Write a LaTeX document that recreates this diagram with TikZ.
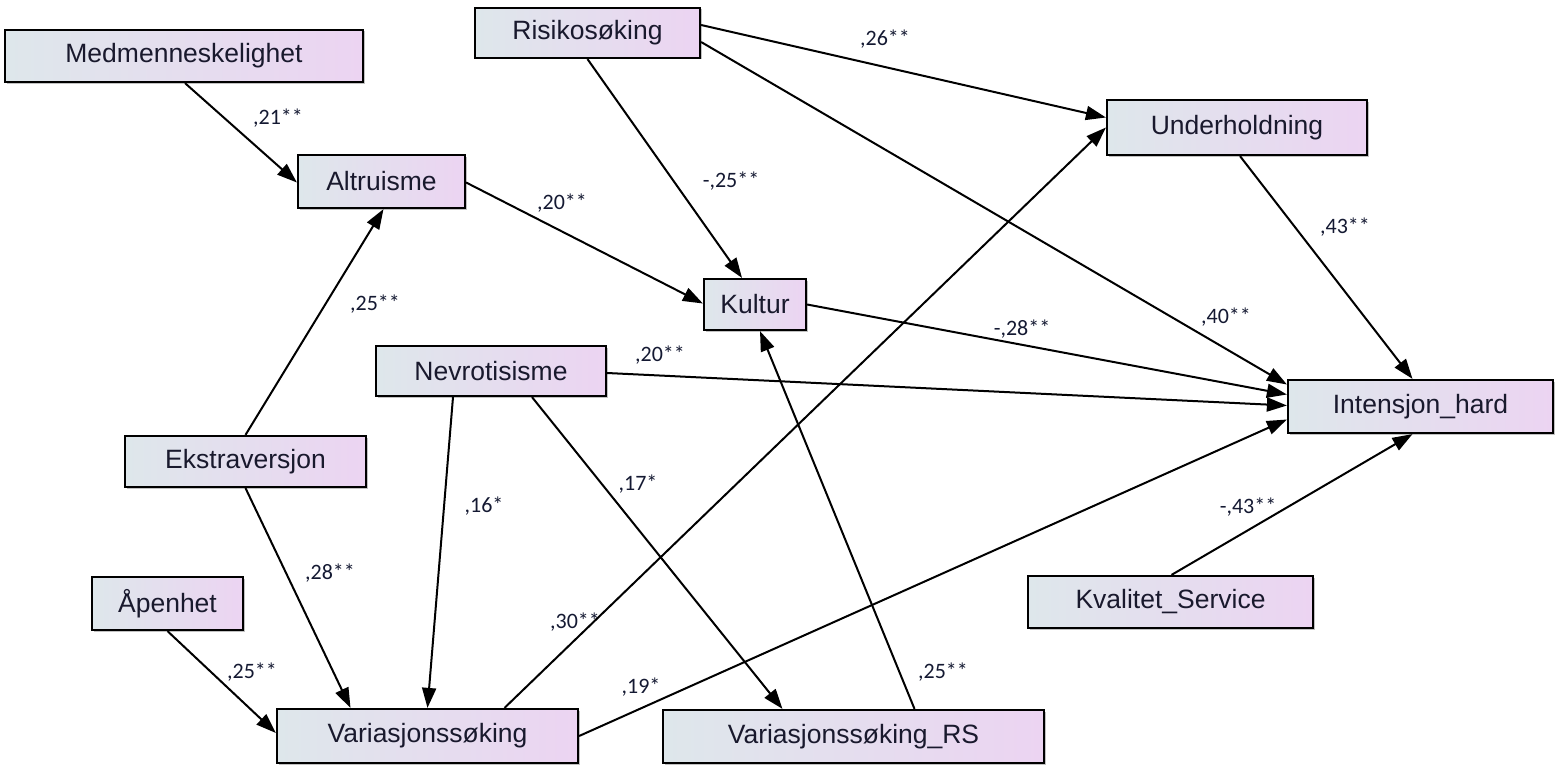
\documentclass[tikz,border=0pt]{standalone}
\usepackage{fontspec}
\setmainfont{Liberation Sans}
\newfontfamily\lblfont{Carlito}
\usetikzlibrary{arrows.meta,calc,shadows}
\definecolor{boxleft}{RGB}{222,231,235}
\definecolor{boxright}{RGB}{236,212,242}
\definecolor{boxtext}{RGB}{25,25,45}
\definecolor{lbltext}{RGB}{20,25,50}
\begin{document}
\begin{tikzpicture}[x=1pt,y=-1pt,
  varbox/.style={draw=black,line width=2.2pt,left color=boxleft,right color=boxright,
    inner sep=0pt,text=boxtext,font=\fontsize{26.5}{30}\selectfont,
    drop shadow={shadow xshift=1.5pt,shadow yshift=-1.5pt,fill=gray!60,opacity=0.8}},
  path/.style={line width=2pt,draw=black,-{Triangle[length=20pt,width=14pt]}},
  coef/.style={font=\lblfont\fontsize{22}{24}\selectfont,text=lbltext,inner sep=0pt}]
\useasboundingbox (0,0) rectangle (1555,768);
% nodes
\node[varbox,minimum width=358pt,minimum height=52pt] (med) at (184,56) {Medmenneskelighet};
\node[varbox,minimum width=225pt,minimum height=50pt] (ris) at (587.5,33) {Risikosøking};
\node[varbox,minimum width=167pt,minimum height=53pt] (alt) at (381.5,181.5) {Altruisme};
\node[varbox,minimum width=260pt,minimum height=55pt] (und) at (1237,127.5) {Underholdning};
\node[varbox,minimum width=102pt,minimum height=51pt] (kul) at (755,304.5) {Kultur};
\node[varbox,minimum width=230pt,minimum height=50pt] (nev) at (491,371) {Nevrotisisme};
\node[varbox,minimum width=265pt,minimum height=53pt] (int) at (1420.5,406.5) {Intensjon\_hard};
\node[varbox,minimum width=241pt,minimum height=51pt] (eks) at (245.5,461.5) {Ekstraversjon};
\node[varbox,minimum width=151pt,minimum height=53pt] (ape) at (167.5,603.5) {Åpenhet};
\node[varbox,minimum width=285pt,minimum height=52pt] (kva) at (1170.5,602) {Kvalitet\_Service};
\node[varbox,minimum width=301pt,minimum height=54pt] (var) at (427.5,736) {Variasjonssøking};
\node[varbox,minimum width=381pt,minimum height=53pt] (vrs) at (853.5,736.5) {Variasjonssøking\_RS};
% connectors
\draw[path] ($(med.south)+(1,0)$) -- ($(alt.west)+(0,1)$);
\draw[path] ($(ris.east)+(0,-8)$) -- ($(und.west)+(0,-10)$);
\draw[path] (ris.south) -- ($(kul.north)+(-13,0)$);
\draw[path] ($(ris.east)+(0,9)$) -- ($(int.west)+(0,-22)$);
\draw[path] ($(alt.east)+(0,1)$) -- ($(kul.west)+(0,-1)$);
\draw[path] (eks.north) -- ($(alt.south)+(2,0)$);
\draw[path] (kul.east) -- ($(int.west)+(0,-12)$);
\draw[path] ($(nev.east)+(0,2)$) -- ($(int.west)+(0,-1)$);
\draw[path] ($(und.south)+(3,0)$) -- ($(int.north)+(-8,0)$);
\draw[path] ($(nev.south)+(-38,0)$) -- (var.north);
\draw[path] ($(nev.south)+(41,0)$) -- ($(vrs.north)+(-71,0)$);
\draw[path] (eks.south) -- ($(var.north)+(-77,0)$);
\draw[path] (ape.south) -- ($(var.west)+(0,-3)$);
\draw[path] ($(var.north)+(77,0)$) -- (und.west);
\draw[path] (var.east) -- ($(int.west)+(0,13)$);
\draw[path] ($(vrs.north)+(61,0)$) -- ($(kul.south)+(5,0)$);
\draw[path] ($(kva.north)+(1,0)$) -- ($(int.south)+(-8,0)$);
% coefficients
\node[coef] (c1) at (278,118) {,21**};
\node[coef] (c2) at (885,39) {,26**};
\node[coef] (c3) at (731,181) {-,25**};
\node[coef] (c4) at (1226,317) {,40**};
\node[coef] (c5) at (562,203) {,20**};
\node[coef] (c6) at (375,304) {,25**};
\node[coef] (c7) at (1022,329) {-,28**};
\node[coef] (c8) at (660,355) {,20**};
\node[coef] (c9) at (1345,227) {,43**};
\node[coef] (c10) at (484,506) {,16*};
\node[coef] (c11) at (638,484) {,17*};
\node[coef] (c12) at (330,573) {,28**};
\node[coef] (c13) at (252,672) {,25**};
\node[coef] (c14) at (575,622) {,30**};
\node[coef] (c15) at (641,687) {,19*};
\node[coef] (c16) at (943,672) {,25**};
\node[coef] (c17) at (1248,507) {-,43**};
\end{tikzpicture}
\end{document}
